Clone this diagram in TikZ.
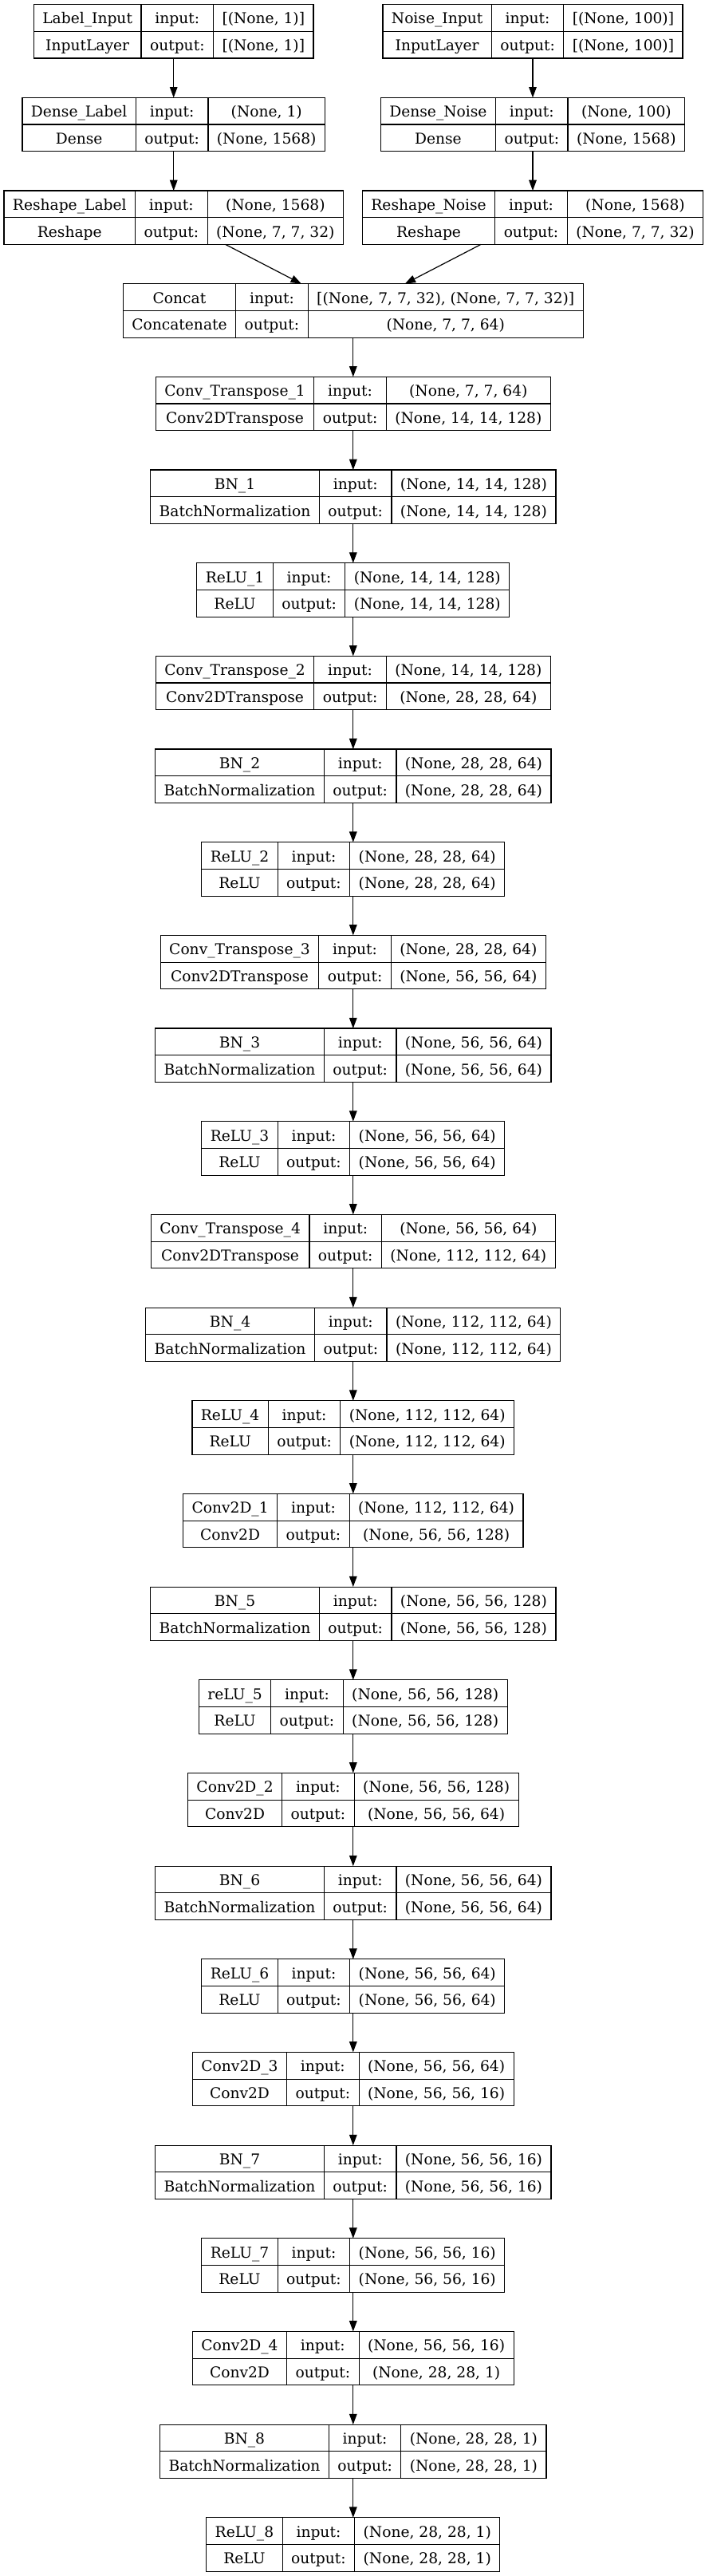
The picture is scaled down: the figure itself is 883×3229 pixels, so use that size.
\documentclass[tikz,border=0pt]{standalone}
\usepackage{fontspec}
\usepackage{tikz}
\usetikzlibrary{arrows.meta}
\newfontfamily\layerfont{DejaVu Serif}
\newcommand{\lfont}{\layerfont\fontsize{14}{16}\selectfont}

\newdimen\cellwa
\newdimen\cellwb
\newdimen\cellwc
\newdimen\cellwd
\newdimen\cellwo
\newsavebox\cellbox

% width of a text in the layer font, kept in #1
\newcommand{\cellwidth}[2]{%
  \pgfinterruptpicture
    \sbox\cellbox{\lfont #2}\global#1=\wd\cellbox
  \endpgfinterruptpicture}

% one layer of the model: #1 node, #2 centre x, #3 row, #4 name, #5 class, #6 input, #7 output
\newcommand{\layerbox}[7]{%
  \cellwidth\cellwa{#4}\cellwidth\cellwb{#5}%
  \cellwidth\cellwc{#6}\cellwidth\cellwd{#7}%
  \cellwidth\cellwo{output:}%
  \pgfmathsetmacro\colA{max(\cellwa,\cellwb)/0.75+22}%
  \pgfmathsetmacro\colB{\cellwo/0.75+22}%
  \pgfmathsetmacro\colC{max(\cellwc,\cellwd)/0.75+22}%
  \pgfmathsetmacro\boxw{\colA+\colB+\colC}%
  \pgfmathsetmacro\boxwpt{\boxw*0.75}%
  \pgfmathsetmacro\xl{#2-\boxw/2}%
  \pgfmathsetmacro\yt{5.7+116.67*#3}%
  \node[layer, minimum width=\boxwpt pt] (#1) at (#2,\yt+33.7) {};
  \draw[cellline] (\xl,\yt+33.7) -- (\xl+\boxw,\yt+33.7)
    (\xl+\colA,\yt) -- (\xl+\colA,\yt+67.4)
    (\xl+\colA+\colB,\yt) -- (\xl+\colA+\colB,\yt+67.4);
  \node[cell] (#1-name) at (\xl+\colA/2,\yt+24.3) {#4};
  \node[cell] (#1-class) at (\xl+\colA/2,\yt+58) {#5};
  \node[cell] (#1-inlab) at (\xl+\colA+\colB/2,\yt+24.3) {input:};
  \node[cell] (#1-outlab) at (\xl+\colA+\colB/2,\yt+58) {output:};
  \node[cell] (#1-in) at (\xl+\colA+\colB+\colC/2,\yt+24.3) {#6};
  \node[cell] (#1-out) at (\xl+\colA+\colB+\colC/2,\yt+58) {#7};
}

\begin{document}
\begin{tikzpicture}[x=0.75pt,y=0.75pt,yscale=-1,xscale=1,
  layer/.style={draw, line width=0.9pt, minimum height=50.55pt, inner sep=0pt, outer sep=0pt},
  cellline/.style={line width=0.9pt},
  cell/.style={anchor=base, inner sep=0pt, font=\lfont},
  flow/.style={line width=0.9pt, -{Triangle[length=10pt,width=7.2pt]}}]
\useasboundingbox (0,0) rectangle (883,3229);

% Inputs
\layerbox{labelin}{217.7}{0}{Label\_Input}{InputLayer}{[(None, 1)]}{[(None, 1)]}
\layerbox{noisein}{668}{0}{Noise\_Input}{InputLayer}{[(None, 100)]}{[(None, 100)]}
\layerbox{denselabel}{217.7}{1}{Dense\_Label}{Dense}{(None, 1)}{(None, 1568)}
\layerbox{densenoise}{668}{1}{Dense\_Noise}{Dense}{(None, 100)}{(None, 1568)}
\layerbox{reshapelabel}{217.7}{2}{Reshape\_Label}{Reshape}{(None, 1568)}{(None, 7, 7, 32)}
\layerbox{reshapenoise}{668}{2}{Reshape\_Noise}{Reshape}{(None, 1568)}{(None, 7, 7, 32)}
\layerbox{concat}{442.8}{3}{Concat}{Concatenate}{[(None, 7, 7, 32), (None, 7, 7, 32)]}{(None, 7, 7, 64)}

% Transposed convolutions
\layerbox{convt1}{442.8}{4}{Conv\_Transpose\_1}{Conv2DTranspose}{(None, 7, 7, 64)}{(None, 14, 14, 128)}
\layerbox{bn1}{442.8}{5}{BN\_1}{BatchNormalization}{(None, 14, 14, 128)}{(None, 14, 14, 128)}
\layerbox{relu1}{442.8}{6}{ReLU\_1}{ReLU}{(None, 14, 14, 128)}{(None, 14, 14, 128)}
\layerbox{convt2}{442.8}{7}{Conv\_Transpose\_2}{Conv2DTranspose}{(None, 14, 14, 128)}{(None, 28, 28, 64)}
\layerbox{bn2}{442.8}{8}{BN\_2}{BatchNormalization}{(None, 28, 28, 64)}{(None, 28, 28, 64)}
\layerbox{relu2}{442.8}{9}{ReLU\_2}{ReLU}{(None, 28, 28, 64)}{(None, 28, 28, 64)}
\layerbox{convt3}{442.8}{10}{Conv\_Transpose\_3}{Conv2DTranspose}{(None, 28, 28, 64)}{(None, 56, 56, 64)}
\layerbox{bn3}{442.8}{11}{BN\_3}{BatchNormalization}{(None, 56, 56, 64)}{(None, 56, 56, 64)}
\layerbox{relu3}{442.8}{12}{ReLU\_3}{ReLU}{(None, 56, 56, 64)}{(None, 56, 56, 64)}
\layerbox{convt4}{442.8}{13}{Conv\_Transpose\_4}{Conv2DTranspose}{(None, 56, 56, 64)}{(None, 112, 112, 64)}
\layerbox{bn4}{442.8}{14}{BN\_4}{BatchNormalization}{(None, 112, 112, 64)}{(None, 112, 112, 64)}
\layerbox{relu4}{442.8}{15}{ReLU\_4}{ReLU}{(None, 112, 112, 64)}{(None, 112, 112, 64)}

% Convolutions
\layerbox{conv1}{442.8}{16}{Conv2D\_1}{Conv2D}{(None, 112, 112, 64)}{(None, 56, 56, 128)}
\layerbox{bn5}{442.8}{17}{BN\_5}{BatchNormalization}{(None, 56, 56, 128)}{(None, 56, 56, 128)}
\layerbox{relu5}{442.8}{18}{reLU\_5}{ReLU}{(None, 56, 56, 128)}{(None, 56, 56, 128)}
\layerbox{conv2}{442.8}{19}{Conv2D\_2}{Conv2D}{(None, 56, 56, 128)}{(None, 56, 56, 64)}
\layerbox{bn6}{442.8}{20}{BN\_6}{BatchNormalization}{(None, 56, 56, 64)}{(None, 56, 56, 64)}
\layerbox{relu6}{442.8}{21}{ReLU\_6}{ReLU}{(None, 56, 56, 64)}{(None, 56, 56, 64)}
\layerbox{conv3}{442.8}{22}{Conv2D\_3}{Conv2D}{(None, 56, 56, 64)}{(None, 56, 56, 16)}
\layerbox{bn7}{442.8}{23}{BN\_7}{BatchNormalization}{(None, 56, 56, 16)}{(None, 56, 56, 16)}
\layerbox{relu7}{442.8}{24}{ReLU\_7}{ReLU}{(None, 56, 56, 16)}{(None, 56, 56, 16)}
\layerbox{conv4}{442.8}{25}{Conv2D\_4}{Conv2D}{(None, 56, 56, 16)}{(None, 28, 28, 1)}
\layerbox{bn8}{442.8}{26}{BN\_8}{BatchNormalization}{(None, 28, 28, 1)}{(None, 28, 28, 1)}
\layerbox{relu8}{442.8}{27}{ReLU\_8}{ReLU}{(None, 28, 28, 1)}{(None, 28, 28, 1)}

% Arrows
\draw[flow] (labelin) -- (denselabel);
\draw[flow] (denselabel) -- (reshapelabel);
\draw[flow] (noisein) -- (densenoise);
\draw[flow] (densenoise) -- (reshapenoise);
\draw[flow] (reshapelabel) -- (concat);
\draw[flow] (reshapenoise) -- (concat);
\draw[flow] (concat) -- (convt1);
\draw[flow] (convt1) -- (bn1);
\draw[flow] (bn1) -- (relu1);
\draw[flow] (relu1) -- (convt2);
\draw[flow] (convt2) -- (bn2);
\draw[flow] (bn2) -- (relu2);
\draw[flow] (relu2) -- (convt3);
\draw[flow] (convt3) -- (bn3);
\draw[flow] (bn3) -- (relu3);
\draw[flow] (relu3) -- (convt4);
\draw[flow] (convt4) -- (bn4);
\draw[flow] (bn4) -- (relu4);
\draw[flow] (relu4) -- (conv1);
\draw[flow] (conv1) -- (bn5);
\draw[flow] (bn5) -- (relu5);
\draw[flow] (relu5) -- (conv2);
\draw[flow] (conv2) -- (bn6);
\draw[flow] (bn6) -- (relu6);
\draw[flow] (relu6) -- (conv3);
\draw[flow] (conv3) -- (bn7);
\draw[flow] (bn7) -- (relu7);
\draw[flow] (relu7) -- (conv4);
\draw[flow] (conv4) -- (bn8);
\draw[flow] (bn8) -- (relu8);

\end{tikzpicture}
\end{document}
